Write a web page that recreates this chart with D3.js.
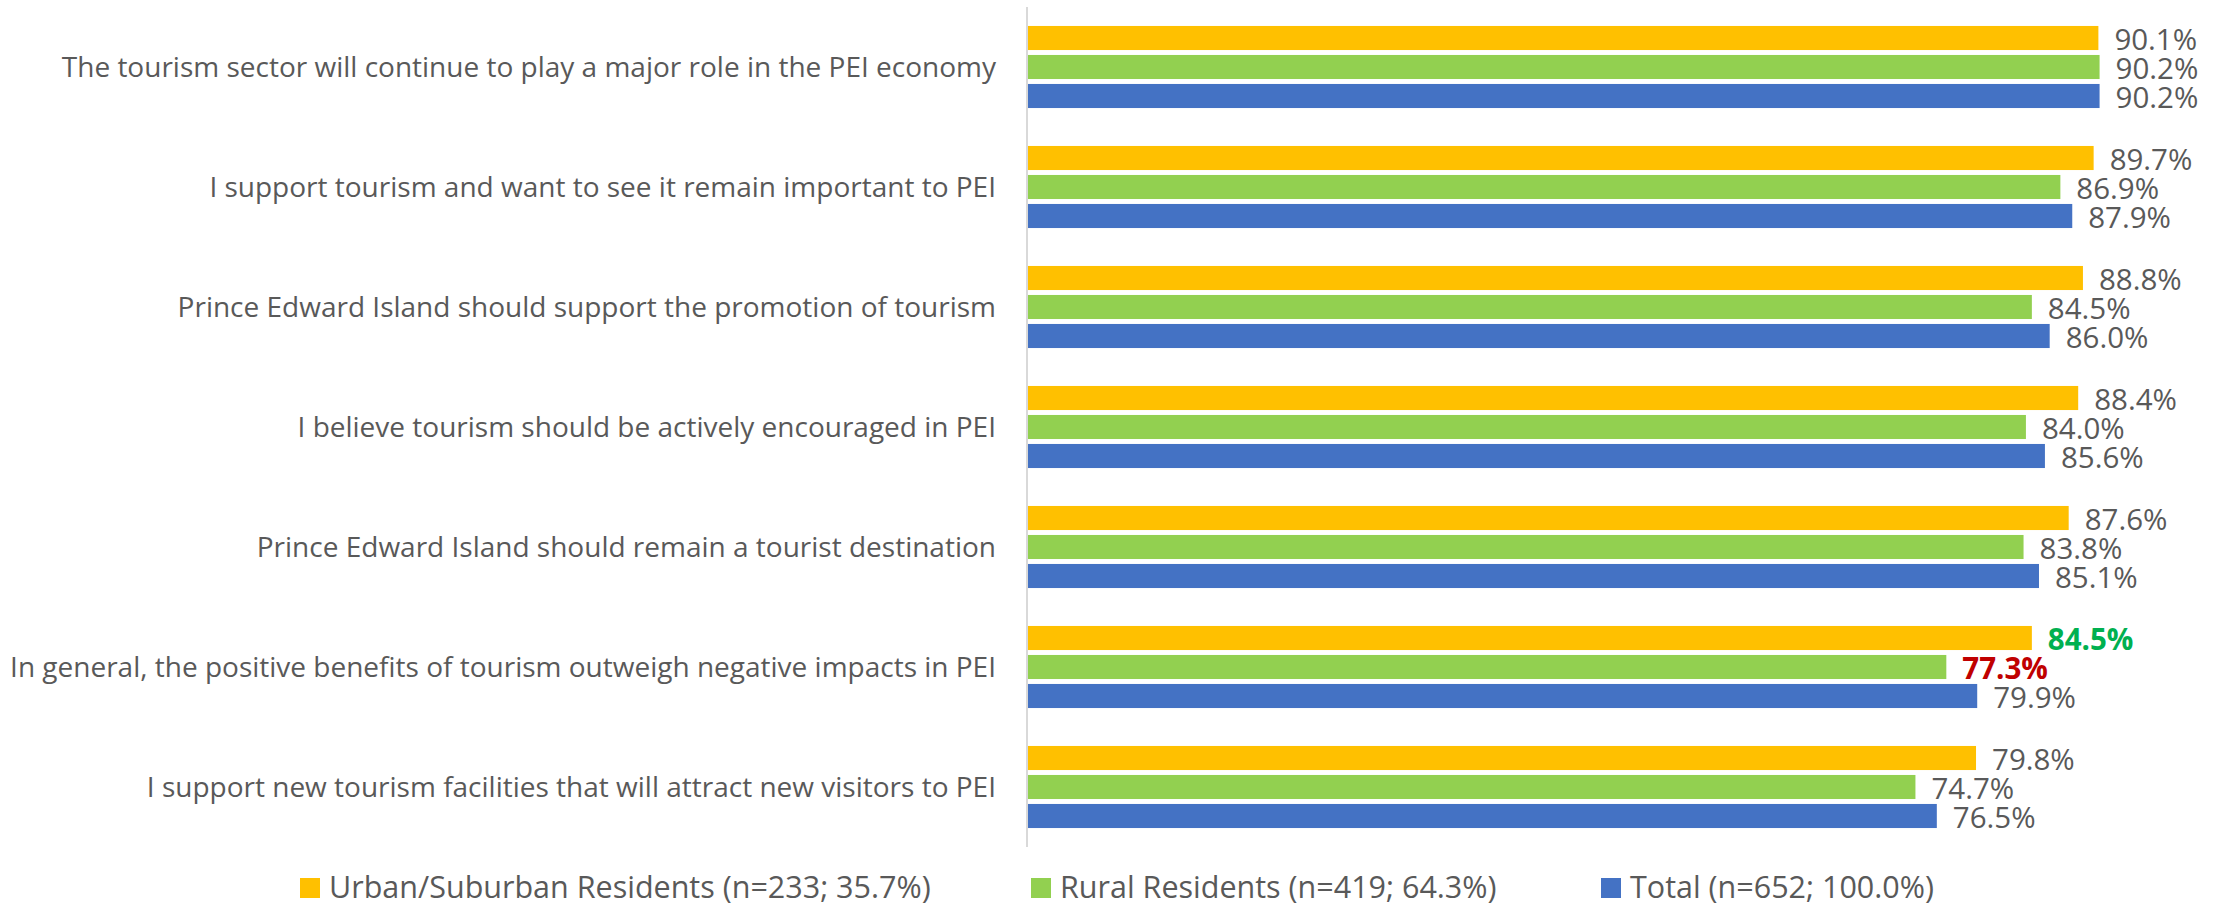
<!DOCTYPE html>
<html>
<head>
<meta charset="utf-8">
<script src="https://cdn.jsdelivr.net/npm/d3@7"></script>
<style>
  html, body { margin: 0; padding: 0; background: #fff; }
  svg { display: block; }
  text { font-family: "Open Sans", "Noto Sans", sans-serif; }
</style>
</head>
<body>
<div id="chart"></div>
<script>
const statements = [
  "The tourism sector will continue to play a major role in the PEI economy",
  "I support tourism and want to see it remain important to PEI",
  "Prince Edward Island should support the promotion of tourism",
  "I believe tourism should be actively encouraged in PEI",
  "Prince Edward Island should remain a tourist destination",
  "In general, the positive benefits of tourism outweigh negative impacts in PEI",
  "I support new tourism facilities that will attract new visitors to PEI"
];

const seriesNames = [
  "Urban/Suburban Residents (n=233; 35.7%)",
  "Rural Residents (n=419; 64.3%)",
  "Total (n=652; 100.0%)"
];

const urbanValues = [90.1, 89.7, 88.8, 88.4, 87.6, 84.5, 79.8];
const ruralValues = [90.2, 86.9, 84.5, 84.0, 83.8, 77.3, 74.7];
const totalValues = [90.2, 87.9, 86.0, 85.6, 85.1, 79.9, 76.5];

// highlighted labels: [series index, statement index, colour]
const highlights = [
  [0, 5, "#00b050"],
  [1, 5, "#c00000"]
];

const width = 2220;
const height = 907;
const colors = ["#ffc000", "#92d050", "#4472c4"];
const textColor = "#595959";

const rows = statements.map((s, i) => ({
  statement: s,
  values: [urbanValues[i], ruralValues[i], totalValues[i]]
}));

const x = d3.scaleLinear()
    .domain([0, 100])
    .range([1028, 2216]);

const y = d3.scaleBand()
    .domain(statements)
    .range([7, 847])
    .paddingInner(0.275)
    .paddingOuter(0.1375);

const ySub = d3.scaleBand()
    .domain(d3.range(seriesNames.length))
    .range([0, y.bandwidth()])
    .paddingInner(0.17)
    .paddingOuter(0.085);

const svg = d3.select("#chart").append("svg")
    .attr("width", width)
    .attr("height", height);

// category axis line
svg.append("line")
    .attr("x1", x(0) - 1)
    .attr("x2", x(0) - 1)
    .attr("y1", y.range()[0])
    .attr("y2", y.range()[1])
    .attr("stroke", "#d9d9d9")
    .attr("stroke-width", 2);

const groups = svg.append("g")
  .selectAll("g")
  .data(rows)
  .enter()
  .append("g")
    .attr("transform", d => `translate(0,${y(d.statement)})`);

groups.append("text")
    .attr("x", 996)
    .attr("y", y.bandwidth() / 2)
    .attr("dy", "0.35em")
    .attr("text-anchor", "end")
    .attr("fill", textColor)
    .attr("font-size", 28)
    .text(d => d.statement);

groups.selectAll("rect")
  .data(d => d.values)
  .enter()
  .append("rect")
    .attr("x", x(0))
    .attr("y", (v, i) => ySub(i))
    .attr("width", v => x(v) - x(0))
    .attr("height", ySub.bandwidth())
    .attr("fill", (v, i) => colors[i]);

groups.selectAll("text.value")
  .data((d, di) => d.values.map((v, i) => ({ v, i, di })))
  .enter()
  .append("text")
    .attr("class", "value")
    .attr("x", d => x(d.v) + 16)
    .attr("y", d => ySub(d.i) + ySub.bandwidth() / 2 + 2)
    .attr("dy", "0.35em")
    .attr("font-size", 29.5)
    .attr("fill", d => {
      const h = highlights.find(h => h[0] === d.i && h[1] === d.di);
      return h ? h[2] : textColor;
    })
    .attr("font-weight", d => highlights.some(h => h[0] === d.i && h[1] === d.di) ? "bold" : "normal")
    .text(d => d.v.toFixed(1) + "%");

// legend
const legendX = [300, 1031, 1601];

const legend = svg.append("g")
  .selectAll("g")
  .data(seriesNames)
  .enter()
  .append("g")
    .attr("transform", (d, i) => `translate(${legendX[i]},878)`);

legend.append("rect")
    .attr("width", 20)
    .attr("height", 20)
    .attr("fill", (d, i) => colors[i]);

legend.append("text")
    .attr("x", 29)
    .attr("y", 10)
    .attr("dy", "0.33em")
    .attr("fill", textColor)
    .attr("font-size", 30.5)
    .text(d => d);
</script>
</body>
</html>
